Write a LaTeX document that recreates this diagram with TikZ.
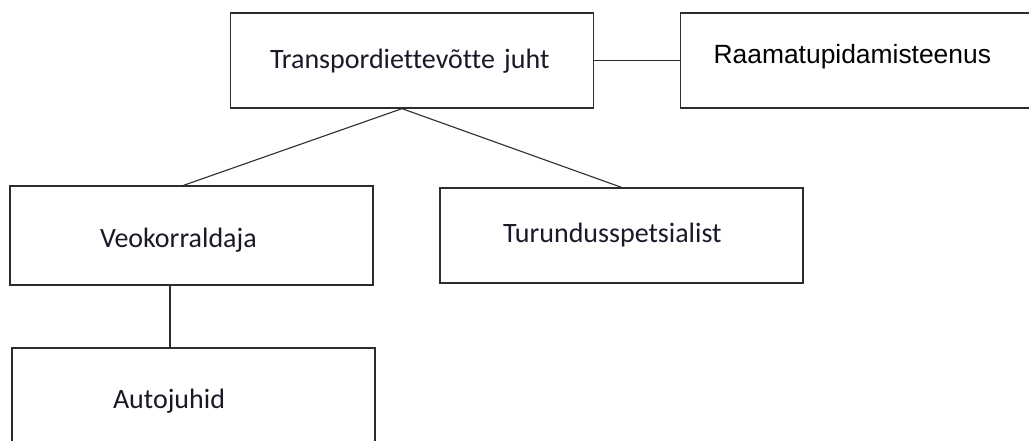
\documentclass[tikz,border=0pt]{standalone}
\usepackage{fontspec}
\setmainfont{Carlito}[Ligatures={NoCommon}]
\newfontfamily\arialfont{Liberation Sans}
\usepackage{tikz}
\usetikzlibrary{positioning,calc}
\definecolor{myline}{RGB}{45,45,45}
\definecolor{mytext}{RGB}{25,25,40}
\newcommand{\vmove}[2]{\raisebox{#1}[\height][\depth]{#2}}
\tikzset{
    line/.style   = {draw=myline, line width=1.1pt},
    block/.style  = {draw=myline, line width=1.3pt, fill=white,
            minimum width=363pt, minimum height=95pt, inner sep=0pt,
            text=mytext, font=\fontsize{28}{34}\selectfont, align=left},
    blockR/.style = {block, anchor=west, minimum width=370pt,
            text width=304pt, inner xsep=33pt, text=black,
            font=\arialfont\fontsize{26.4}{32}\selectfont},
}

\begin{document}
\begin{tikzpicture}[x=1pt, y=-1pt]
            \useasboundingbox (0,0) rectangle (1029,441);
            \clip (0,0) rectangle (1029,441);
            % Nodes
            \node[block, inner xsep=39pt, text width=284pt] (juht) at (412,60.5) {\vmove{-1pt}{Transpordiettevõtte juht}};
            \node[blockR] (raamat) at (680,60.5) {\vmove{4pt}{Raamatupidamisteenus}};
            \node[block, minimum height=99pt, inner xsep=90pt, text width=183pt] (veok) at (191.5,235.5) {\vmove{-5pt}{Veokorraldaja}};
            \node[block, inner xsep=63pt, text width=237pt] (turund) at (621.5,235.5) {Turundusspetsialist};
            \node[block, minimum height=100pt, inner xsep=101pt, text width=161pt] (autoj) at (193.5,398) {\vmove{-3.5pt}{Autojuhid}};

            % Lines
            \draw[line] (juht.east) -- (raamat.west);
            \draw[line] ([xshift=-10pt]juht.south) -- ([xshift=-8pt]veok.north);
            \draw[line] ([xshift=-10pt]juht.south) -- (turund.north);
            \draw[line] ([xshift=-21.5pt]veok.south) -- ([xshift=-23.5pt]autoj.north);
\end{tikzpicture}
\end{document}
